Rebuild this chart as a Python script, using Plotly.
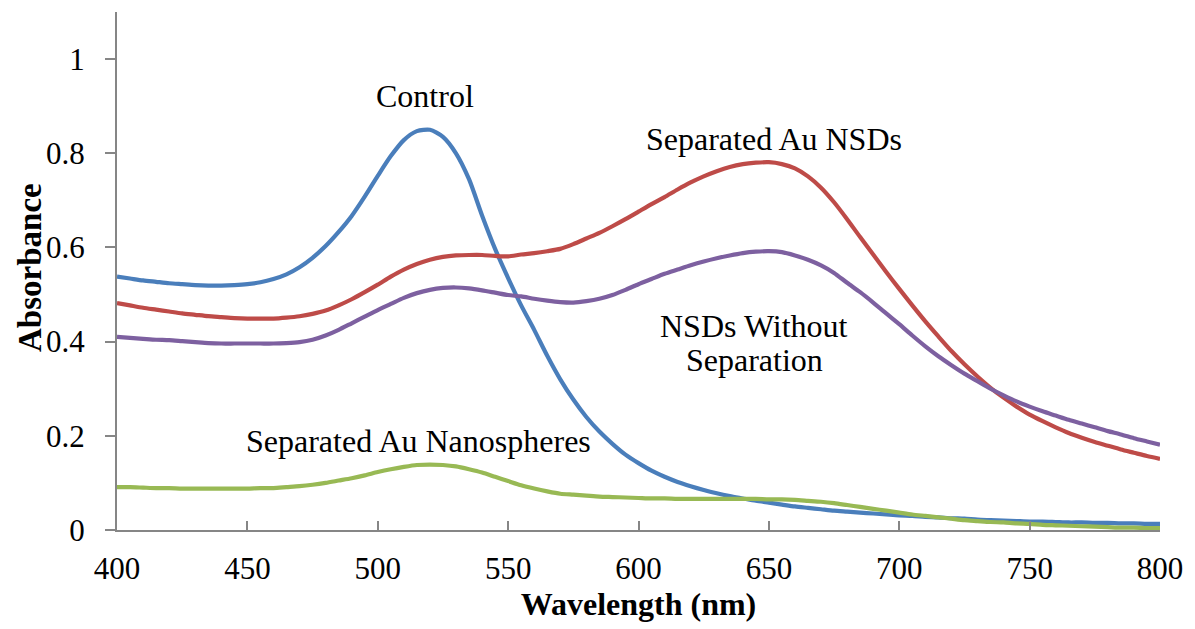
import plotly.graph_objects as go

# Wavelength grid (nm), 5 nm steps from 400 to 800
wavelength = list(range(400, 805, 5))

control = [0.538, 0.534, 0.530, 0.527, 0.524, 0.522, 0.520, 0.519, 0.519, 0.520,
           0.522, 0.526, 0.533, 0.543, 0.558, 0.578, 0.603, 0.633, 0.667, 0.708,
           0.752, 0.794, 0.828, 0.847, 0.850, 0.835, 0.800, 0.745, 0.668, 0.597,
           0.535, 0.477, 0.425, 0.370, 0.320, 0.277, 0.240, 0.209, 0.183, 0.160,
           0.142, 0.126, 0.113, 0.102, 0.093, 0.085, 0.078, 0.072, 0.067, 0.062,
           0.058, 0.054, 0.050, 0.047, 0.044, 0.041, 0.039, 0.037, 0.035, 0.033,
           0.031, 0.030, 0.028, 0.027, 0.025, 0.024, 0.022, 0.021, 0.020, 0.019,
           0.018, 0.018, 0.017, 0.016, 0.016, 0.015, 0.015, 0.014, 0.014, 0.013, 0.013]

sep_nsds = [0.482, 0.477, 0.472, 0.468, 0.464, 0.460, 0.457, 0.454, 0.452, 0.450,
            0.449, 0.449, 0.449, 0.451, 0.454, 0.459, 0.466, 0.477, 0.490, 0.505,
            0.521, 0.538, 0.553, 0.565, 0.574, 0.580, 0.583, 0.584, 0.584, 0.582,
            0.581, 0.585, 0.588, 0.592, 0.597, 0.607, 0.619, 0.631, 0.645, 0.660,
            0.676, 0.692, 0.707, 0.723, 0.738, 0.751, 0.762, 0.771, 0.777, 0.780,
            0.781, 0.777, 0.768, 0.751, 0.727, 0.696, 0.660, 0.622, 0.585, 0.548,
            0.512, 0.477, 0.443, 0.411, 0.380, 0.352, 0.326, 0.302, 0.281, 0.262,
            0.245, 0.231, 0.218, 0.206, 0.196, 0.187, 0.179, 0.171, 0.164, 0.157, 0.151]

nsds_no_sep = [0.410, 0.408, 0.406, 0.404, 0.403, 0.401, 0.399, 0.397, 0.396, 0.396,
               0.396, 0.396, 0.396, 0.397, 0.399, 0.404, 0.413, 0.425, 0.439, 0.453,
               0.467, 0.480, 0.493, 0.503, 0.510, 0.514, 0.515, 0.513, 0.509, 0.504,
               0.499, 0.496, 0.491, 0.487, 0.484, 0.483, 0.486, 0.491, 0.499, 0.510,
               0.522, 0.533, 0.544, 0.553, 0.562, 0.570, 0.577, 0.583, 0.588, 0.591,
               0.592, 0.590, 0.583, 0.574, 0.562, 0.546, 0.525, 0.505, 0.483, 0.460,
               0.437, 0.413, 0.390, 0.369, 0.350, 0.332, 0.316, 0.300, 0.286, 0.273,
               0.262, 0.252, 0.243, 0.234, 0.226, 0.218, 0.210, 0.203, 0.195, 0.188, 0.181]

sep_spheres = [0.091, 0.091, 0.090, 0.089, 0.089, 0.088, 0.088, 0.088, 0.088, 0.088,
               0.088, 0.089, 0.089, 0.091, 0.093, 0.096, 0.100, 0.105, 0.110, 0.116,
               0.123, 0.129, 0.134, 0.138, 0.139, 0.138, 0.135, 0.129, 0.122, 0.113,
               0.104, 0.095, 0.088, 0.082, 0.077, 0.075, 0.073, 0.071, 0.070, 0.069,
               0.068, 0.067, 0.067, 0.066, 0.066, 0.066, 0.066, 0.066, 0.066, 0.066,
               0.065, 0.065, 0.064, 0.062, 0.060, 0.057, 0.053, 0.049, 0.045, 0.041,
               0.037, 0.033, 0.030, 0.027, 0.024, 0.021, 0.019, 0.017, 0.016, 0.014,
               0.013, 0.011, 0.010, 0.009, 0.008, 0.007, 0.006, 0.005, 0.005, 0.004, 0.004]

series = [
    ("Control", control, "#4A7EBB"),
    ("Separated Au NSDs", sep_nsds, "#BE4B48"),
    ("NSDs Without Separation", nsds_no_sep, "#7D60A0"),
    ("Separated Au Nanospheres", sep_spheres, "#98B954"),
]

labels = [
    ("Control", 518.3, 0.921),
    ("Separated Au NSDs", 651.9, 0.83),
    ("NSDs Without", 644.3, 0.434),
    ("Separation", 644.3, 0.362),
    ("Separated Au Nanospheres", 515.6, 0.189),
]

x_ticks = [400, 450, 500, 550, 600, 650, 700, 750, 800]
y_ticks = [0, 0.2, 0.4, 0.6, 0.8, 1]
y_ticktext = ["0", "0.2", "0.4", "0.6", "0.8", "1"]

FONT = "Liberation Serif"

fig = go.Figure()
for name, vals, color in series:
    fig.add_trace(go.Scatter(
        x=wavelength, y=vals, name=name, mode="lines",
        line=dict(color=color, width=4.2, shape="spline", smoothing=0.7),
        showlegend=False,
    ))

for text, lx, ly in labels:
    fig.add_annotation(x=lx, y=ly, xref="x", yref="y", text=text,
                       showarrow=False, font=dict(family=FONT, size=32, color="black"),
                       xanchor="center", yanchor="middle", align="center")

# y-axis title as annotation for exact placement
fig.add_annotation(x=0, y=0.5, xref="paper", yref="paper", text="<b>Absorbance</b>",
                   showarrow=False, textangle=-90, xanchor="center", yanchor="middle",
                   xshift=-87, yshift=3, font=dict(family=FONT, size=33, color="black"))

fig.update_layout(
    width=1195, height=629,
    margin=dict(l=117, r=30, t=12, b=99),
    paper_bgcolor="white", plot_bgcolor="white",
    font=dict(family=FONT, size=31, color="black"),
)
fig.update_xaxes(
    range=[400, 800], tickvals=x_ticks, ticks="inside", ticklen=9, tickwidth=2,
    tickcolor="#868686", showline=True, linecolor="#868686", linewidth=2,
    showgrid=False, zeroline=False, ticklabelstandoff=10,
    tickfont=dict(family=FONT, size=31, color="black"),
    title=dict(text="<b>Wavelength (nm)</b>", font=dict(family=FONT, size=32, color="black"), standoff=6),
)
fig.update_yaxes(
    range=[0, 1.1], tickvals=y_ticks, ticktext=y_ticktext, ticks="outside", ticklen=10, tickwidth=2,
    tickcolor="#868686", showline=True, linecolor="#868686", linewidth=2,
    showgrid=False, zeroline=False, ticklabelstandoff=14,
    tickfont=dict(family=FONT, size=31, color="black"),
)

fig.write_html("out.html")
